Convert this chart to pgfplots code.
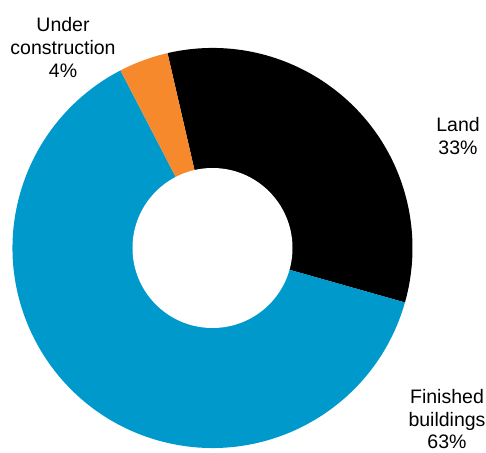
\documentclass[border=0pt]{standalone}
\usepackage{pgfplots}
\pgfplotsset{compat=1.18}
\usepackage{pgfplotstable}
\usepackage{fontspec}
\setmainfont{Liberation Sans}
\definecolor{cblue}{RGB}{0,153,204}
\definecolor{corange}{RGB}{247,137,45}
\definecolor{cblack}{RGB}{0,0,0}
\pgfplotstableread{
label value
Land 33
Finished 63
Under 4
}\sharetable
\begin{document}
\begin{tikzpicture}
\pgfplotstablegetelem{0}{value}\of\sharetable \let\vLand\pgfplotsretval
\pgfplotstablegetelem{1}{value}\of\sharetable \let\vFin\pgfplotsretval
\pgfplotstablegetelem{2}{value}\of\sharetable \let\vUnd\pgfplotsretval
\pgfmathsetmacro{\aA}{103}
\pgfmathsetmacro{\aB}{\aA-3.6*\vLand}
\pgfmathsetmacro{\aC}{\aB-3.6*\vFin}
\pgfmathsetmacro{\aD}{\aC-3.6*\vUnd}
\begin{axis}[
  scale only axis, width=486bp, height=453bp,
  xmin=0, xmax=486, ymin=0, ymax=453,
  hide axis, clip=false,
  font=\fontsize{19.5bp}{23bp}\selectfont,
]
\fill[cblack] (axis cs:212.5,205) -- ++(\aA:200bp) arc[start angle=\aA, end angle=\aB, radius=200bp] -- cycle;
\fill[cblue] (axis cs:212.5,205) -- ++(\aB:200bp) arc[start angle=\aB, end angle=\aC, radius=200bp] -- cycle;
\fill[corange] (axis cs:212.5,205) -- ++(\aC:200bp) arc[start angle=\aC, end angle=\aD, radius=200bp] -- cycle;
\fill[white] (axis cs:212.5,205) circle[radius=80bp];
\tikzset{lbl/.style={anchor=base, inner sep=0pt}}
\node[lbl] at (axis cs:63,421) {Under};
\node[lbl] at (axis cs:63,398) {construction};
\node[lbl] at (axis cs:63,375) {\vUnd\%};
\node[lbl] at (axis cs:458,321) {Land};
\node[lbl] at (axis cs:458,298) {\vLand\%};
\node[lbl] at (axis cs:447,49) {Finished};
\node[lbl] at (axis cs:447,26.5) {buildings};
\node[lbl] at (axis cs:447,4) {\vFin\%};
\end{axis}
\pgfresetboundingbox
\useasboundingbox (current axis.south west) rectangle (current axis.north east);
\end{tikzpicture}
\end{document}
